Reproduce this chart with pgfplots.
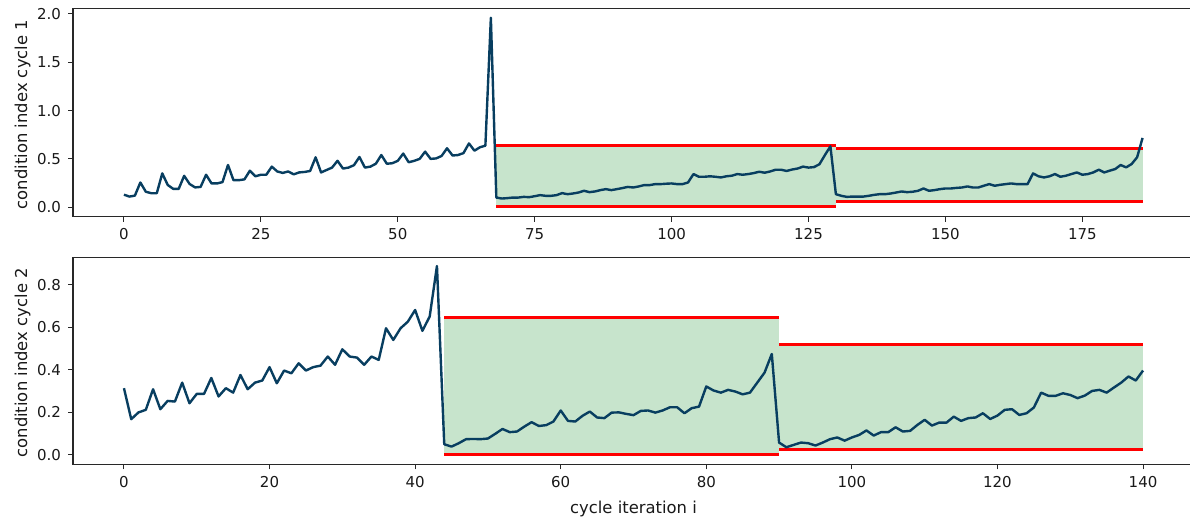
\documentclass[border=0pt]{standalone}
\usepackage{fontspec}
\setmainfont{DejaVu Sans}
\usepackage{pgfplots}
\usepackage{pgfplotstable}
\pgfplotsset{compat=1.18}
\definecolor{lineblue}{RGB}{8,62,96}
\definecolor{boxgreen}{RGB}{199,228,204}
\definecolor{spine}{RGB}{40,40,40}

\pgfplotstableread{
x y
0 0.13
1 0.11
2 0.12
3 0.256
4 0.16
5 0.145
6 0.145
7 0.35
8 0.23
9 0.19
10 0.19
11 0.325
12 0.24
13 0.205
14 0.21
15 0.336
16 0.246
17 0.246
18 0.26
19 0.437
20 0.28
21 0.28
22 0.288
23 0.378
24 0.32
25 0.336
26 0.336
27 0.42
28 0.37
29 0.355
30 0.37
31 0.34
32 0.36
33 0.365
34 0.375
35 0.516
36 0.36
37 0.385
38 0.41
39 0.48
40 0.40
41 0.41
42 0.435
43 0.52
44 0.41
45 0.42
46 0.45
47 0.54
48 0.45
49 0.455
50 0.48
51 0.555
52 0.465
53 0.48
54 0.50
55 0.575
56 0.50
57 0.505
58 0.53
59 0.61
60 0.535
61 0.54
62 0.56
63 0.66
64 0.585
65 0.62
66 0.637
67 1.96
68 0.10
69 0.09
70 0.094
71 0.10
72 0.10
73 0.107
74 0.104
75 0.114
76 0.125
77 0.118
78 0.118
79 0.125
80 0.146
81 0.135
82 0.142
83 0.152
84 0.17
85 0.156
86 0.163
87 0.177
88 0.187
89 0.177
90 0.187
91 0.198
92 0.21
93 0.204
94 0.215
95 0.229
96 0.229
97 0.239
98 0.239
99 0.243
100 0.246
101 0.239
102 0.239
103 0.256
104 0.343
105 0.315
106 0.315
107 0.32
108 0.315
109 0.308
110 0.32
111 0.326
112 0.343
113 0.336
114 0.343
115 0.353
116 0.367
117 0.357
118 0.37
119 0.388
120 0.388
121 0.375
122 0.39
123 0.40
124 0.42
125 0.41
126 0.415
127 0.445
128 0.54
129 0.63
130 0.135
131 0.118
132 0.107
133 0.11
134 0.11
135 0.11
136 0.118
137 0.128
138 0.135
139 0.135
140 0.142
141 0.152
142 0.163
143 0.156
144 0.16
145 0.17
146 0.194
147 0.17
148 0.177
149 0.187
150 0.194
151 0.194
152 0.2
153 0.204
154 0.215
155 0.204
156 0.204
157 0.222
158 0.239
159 0.222
160 0.232
161 0.239
162 0.246
163 0.239
164 0.239
165 0.239
166 0.35
167 0.32
168 0.308
169 0.32
170 0.343
171 0.315
172 0.326
173 0.343
174 0.36
175 0.336
176 0.343
177 0.36
178 0.388
179 0.36
180 0.378
181 0.395
182 0.437
183 0.412
184 0.447
185 0.516
186 0.717
}\cycleone

\pgfplotstableread{
x y
0 0.314
1 0.168
2 0.20
3 0.212
4 0.309
5 0.215
6 0.254
7 0.251
8 0.34
9 0.243
10 0.287
11 0.287
12 0.362
13 0.275
14 0.314
15 0.293
16 0.376
17 0.309
18 0.34
19 0.35
20 0.413
21 0.337
22 0.397
23 0.384
24 0.431
25 0.397
26 0.413
27 0.42
28 0.463
29 0.424
30 0.497
31 0.463
32 0.458
33 0.424
34 0.463
35 0.447
36 0.596
37 0.541
38 0.596
39 0.627
40 0.682
41 0.584
42 0.651
43 0.889
44 0.05
45 0.039
46 0.055
47 0.074
48 0.075
49 0.074
50 0.077
51 0.099
52 0.122
53 0.107
54 0.11
55 0.133
56 0.154
57 0.136
58 0.14
59 0.157
60 0.209
61 0.16
62 0.157
63 0.184
64 0.204
65 0.176
66 0.173
67 0.199
68 0.2
69 0.193
70 0.187
71 0.207
72 0.209
73 0.199
74 0.209
75 0.224
76 0.224
77 0.196
78 0.22
79 0.227
80 0.322
81 0.303
82 0.293
83 0.306
84 0.298
85 0.285
86 0.293
87 0.34
88 0.387
89 0.475
90 0.058
91 0.036
92 0.047
93 0.058
94 0.055
95 0.044
96 0.058
97 0.074
98 0.082
99 0.067
100 0.082
101 0.094
102 0.115
103 0.091
104 0.107
105 0.107
106 0.13
107 0.11
108 0.113
109 0.141
110 0.165
111 0.138
112 0.152
113 0.152
114 0.18
115 0.16
116 0.173
117 0.176
118 0.196
119 0.169
120 0.185
121 0.212
122 0.215
123 0.188
124 0.196
125 0.223
126 0.293
127 0.278
128 0.278
129 0.29
130 0.282
131 0.267
132 0.279
133 0.301
134 0.306
135 0.293
136 0.317
137 0.34
138 0.369
139 0.35
140 0.397
}\cycletwo

\pgfplotsset{
  myaxis/.style={
    scale only axis,
    axis line style={spine, line width=0.6pt},
    tick align=outside,
    xtick pos=bottom, ytick pos=left,
    major tick length=2.5pt,
    tick style={spine, line width=0.5pt},
    tick label style={font=\fontsize{7.5}{9}\selectfont, text=black!90},
    /pgf/number format/assume math mode=true,
    label style={font=\fontsize{8.2}{10}\selectfont, text=black!90},
    yticklabel style={/pgf/number format/fixed, /pgf/number format/fixed zerofill, /pgf/number format/precision=1},
    anchor=north west,
  },
  redline/.style={red, line width=1.45pt, forget plot},
  boxfill/.style={fill=boxgreen, draw=none, forget plot},
  dataline/.style={lineblue, line width=1.2pt, line join=round},
}

\begin{document}
\begin{tikzpicture}
\begin{axis}[myaxis,
  at={(36.5pt,-4.15pt)},
  width=560.25pt, height=104.2pt,
  xmin=-9.3, xmax=195.3,
  ymin=-0.098, ymax=2.058,
  xtick={0,25,50,75,100,125,150,175},
  ytick={0,0.5,1.0,1.5,2.0},
  ylabel={condition index cycle 1},
  ylabel style={at={(axis description cs:-0.045,0.49)}, anchor=center},
]
\addplot[boxfill] coordinates {(68,0) (130,0) (130,0.637) (68,0.637)} -- cycle;
\addplot[boxfill] coordinates {(130,0.055) (186,0.055) (186,0.603) (130,0.603)} -- cycle;
\addplot[redline] coordinates {(68,0.637) (130,0.637)};
\addplot[redline] coordinates {(68,0.005) (130,0.005)};
\addplot[redline] coordinates {(130,0.603) (186,0.603)};
\addplot[redline] coordinates {(130,0.055) (186,0.055)};
\addplot[dataline] table[x=x,y=y] {\cycleone};
\end{axis}

\begin{axis}[myaxis,
  at={(36.5pt,-128.65pt)},
  width=560.5pt, height=103.5pt,
  xmin=-7, xmax=147,
  ymin=-0.0443, ymax=0.930,
  xtick={0,20,40,60,80,100,120,140},
  ytick={0,0.2,0.4,0.6,0.8},
  ylabel={condition index cycle 2},
  ylabel style={at={(axis description cs:-0.045,0.49)}, anchor=center},
  xlabel={cycle iteration i},
  xlabel style={at={(axis description cs:0.5,-0.215)}, anchor=center},
]
\addplot[boxfill] coordinates {(44,0) (90,0) (90,0.648) (44,0.648)} -- cycle;
\addplot[boxfill] coordinates {(90,0.0235) (140,0.0235) (140,0.518) (90,0.518)} -- cycle;
\addplot[redline] coordinates {(44,0.648) (90,0.648)};
\addplot[redline] coordinates {(44,0.0) (90,0.0)};
\addplot[redline] coordinates {(90,0.518) (140,0.518)};
\addplot[redline] coordinates {(90,0.0235) (140,0.0235)};
\addplot[dataline] table[x=x,y=y] {\cycletwo};
\end{axis}
\pgfresetboundingbox
\useasboundingbox (0,0) rectangle (595pt,-258.5pt);
\end{tikzpicture}
\end{document}
